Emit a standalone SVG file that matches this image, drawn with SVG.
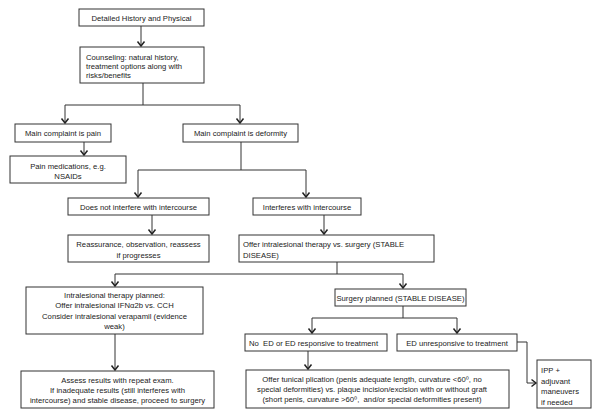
<svg xmlns="http://www.w3.org/2000/svg" width="600" height="418" viewBox="0 0 600 418">
<defs>
<style>
.b{fill:#fff;stroke:#333;stroke-width:1}
.t{font-family:"Liberation Sans",Arial,"DejaVu Sans",sans-serif;font-size:7.7px;fill:#222}
.c{text-anchor:middle}
.l{fill:none;stroke:#333;stroke-width:1}
</style>
<marker id="a" viewBox="-6 -5 8 10" markerWidth="8" markerHeight="10" refX="0" refY="0" orient="auto" markerUnits="userSpaceOnUse">
<path d="M-4.5,-3.5 L0,0 L-4.5,3.5" fill="none" stroke="#222" stroke-width="1.5"/>
</marker>
</defs>
<rect width="600" height="418" fill="#fff"/>
<g id="connectors">
<path class="l" d="M141,26 V46" marker-end="url(#a)"/>
<path class="l" d="M143,83 V105 M65,105 H240"/>
<path class="l" d="M65,105 V123" marker-end="url(#a)"/>
<path class="l" d="M240,105 V123" marker-end="url(#a)"/>
<path class="l" d="M84,142 V155" marker-end="url(#a)"/>
<path class="l" d="M241,142 V170 M138,170 H306"/>
<path class="l" d="M138,170 V197" marker-end="url(#a)"/>
<path class="l" d="M306,170 V197" marker-end="url(#a)"/>
<path class="l" d="M152,215 V234" marker-end="url(#a)"/>
<path class="l" d="M324,215 V234" marker-end="url(#a)"/>
<path class="l" d="M337,262 V274 M115,274 H403"/>
<path class="l" d="M115,274 V286" marker-end="url(#a)"/>
<path class="l" d="M403,274 V288" marker-end="url(#a)"/>
<path class="l" d="M403,306 V318 M312,318 H457"/>
<path class="l" d="M312,318 V333" marker-end="url(#a)"/>
<path class="l" d="M457,318 V333" marker-end="url(#a)"/>
<path class="l" d="M308,351 V369" marker-end="url(#a)"/>
<path class="l" d="M115,334 V370" marker-end="url(#a)"/>
<path class="l" d="M517,342 H527 V383 H536" marker-end="url(#a)"/>
</g>
<g id="n1"><rect class="b" x="79" y="9" width="125" height="17"/><text class="t c" x="141.5" y="20.5">Detailed History and Physical</text></g>
<g id="n2"><rect class="b" x="80" y="47" width="124" height="36"/><text class="t" x="86"><tspan x="86" y="60">Counseling: natural history,</tspan><tspan x="86" y="69">treatment options along with</tspan><tspan x="86" y="78">risks/benefits</tspan></text></g>
<g id="n3"><rect class="b" x="15" y="124" width="96" height="18"/><text class="t c" x="63" y="136">Main complaint is pain</text></g>
<g id="n4"><rect class="b" x="183" y="124" width="115" height="18"/><text class="t c" x="240.5" y="136">Main complaint is deformity</text></g>
<g id="n5"><rect class="b" x="10" y="156" width="116" height="27"/><text class="t c"><tspan x="68" y="168.5">Pain medications, e.g.</tspan><tspan x="68" y="178.5">NSAIDs</tspan></text></g>
<g id="n6"><rect class="b" x="68" y="198" width="141" height="17"/><text class="t c" x="138.5" y="209.5">Does not interfere with intercourse</text></g>
<g id="n7"><rect class="b" x="253" y="198" width="108" height="17"/><text class="t c" x="307" y="209.5">Interferes with intercourse</text></g>
<g id="n8"><rect class="b" x="68" y="235" width="141" height="27"/><text class="t c"><tspan x="138.5" y="247">Reassurance, observation, reassess</tspan><tspan x="138.5" y="257.5">if progresses</tspan></text></g>
<g id="n9"><rect class="b" x="239" y="235" width="195" height="27"/><text class="t"><tspan x="243" y="247">Offer intralesional therapy vs. surgery (STABLE</tspan><tspan x="243" y="257.5">DISEASE)</tspan></text></g>
<g id="n10"><rect class="b" x="26" y="287" width="177" height="47"/><text class="t c"><tspan x="114.5" y="297.5">Intralesional therapy planned:</tspan><tspan x="114.5" y="308">Offer intralesional IFNα2b vs. CCH</tspan><tspan x="114.5" y="318.5">Consider intralesional verapamil (evidence</tspan><tspan x="114.5" y="329">weak)</tspan></text></g>
<g id="n11"><rect class="b" x="335" y="289" width="131" height="17"/><text class="t c" x="400.5" y="300.5">Surgery planned (STABLE DISEASE)</text></g>
<g id="n12"><rect class="b" x="245" y="334" width="142" height="17"/><text class="t" x="249" y="345.5" xml:space="preserve">No  ED or ED responsive to treatment</text></g>
<g id="n13"><rect class="b" x="397" y="334" width="120" height="17"/><text class="t c" x="457" y="345.5">ED unresponsive to treatment</text></g>
<g id="n14"><rect class="b" x="21" y="371" width="193" height="37"/><text class="t c"><tspan x="117.5" y="383">Assess results with repeat exam.</tspan><tspan x="117.5" y="393">If inadequate results (still interferes with</tspan><tspan x="117.5" y="403">intercourse) and stable disease, proceed to surgery</tspan></text></g>
<g id="n15"><rect class="b" x="246" y="370" width="263" height="38"/><text class="t c" xml:space="preserve"><tspan x="372" y="382">Offer tunical plication (penis adequate length, curvature &lt;60⁰, no</tspan><tspan x="372" y="392">special deformities) vs. plaque incision/excision with or without graft</tspan><tspan x="372" y="402">(short penis, curvature &gt;60⁰,  and/or special deformities present)</tspan></text></g>
<g id="n16"><rect class="b" x="537" y="360" width="54" height="48"/><text class="t"><tspan x="541" y="373">IPP +</tspan><tspan x="541" y="383.5">adjuvant</tspan><tspan x="541" y="394">maneuvers</tspan><tspan x="541" y="404.5">if needed</tspan></text></g>
</svg>
